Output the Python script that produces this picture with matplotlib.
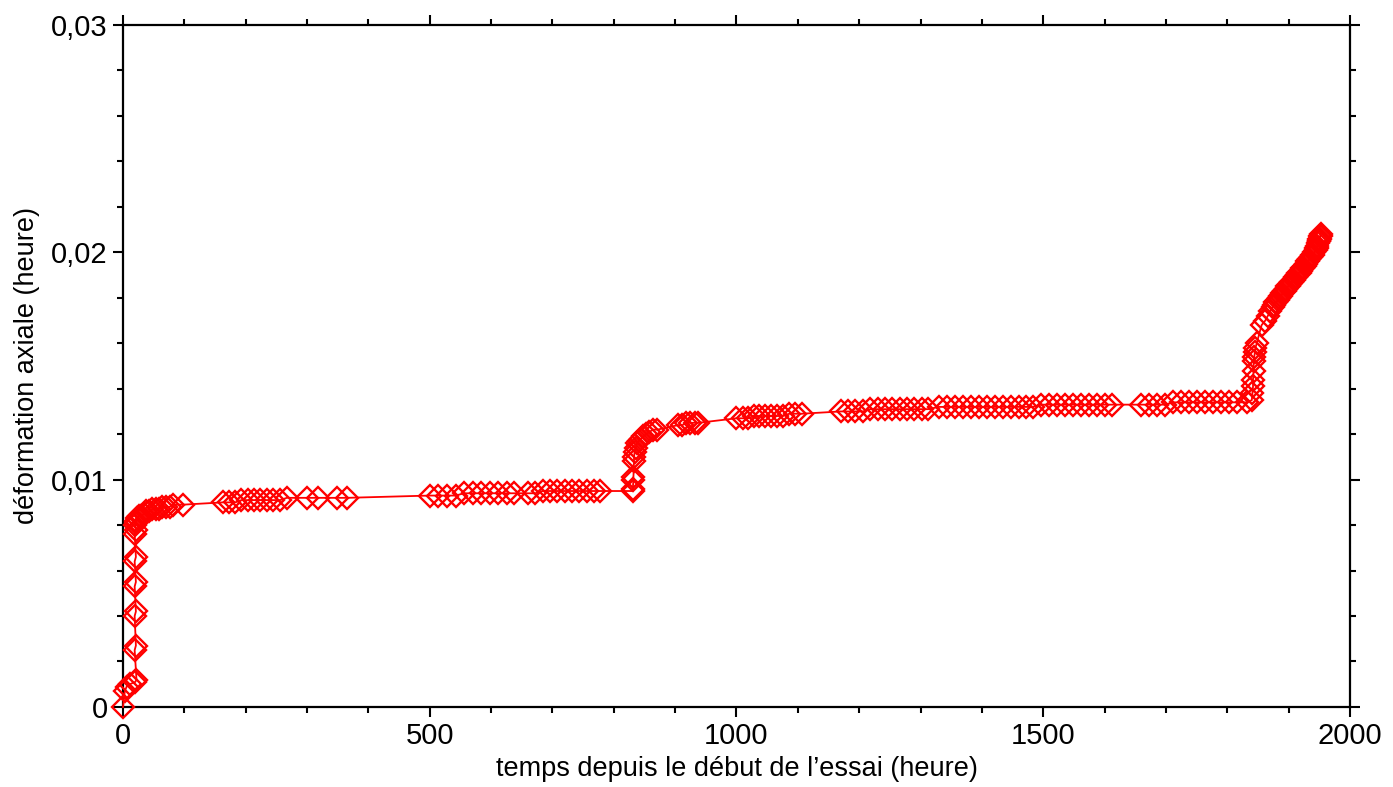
import numpy as np
import matplotlib.pyplot as plt
from matplotlib.ticker import MultipleLocator

plt.rcParams['font.family'] = ['Liberation Sans', 'DejaVu Sans']

# temps (heure) et deformation axiale
t_start = [0, 3, 6, 11, 20, 22,
           19, 21, 19, 21, 19, 21, 19, 21, 19, 21, 20, 21, 22, 23]
d_start = [0.0, 0.0007, 0.0009, 0.0010, 0.0011, 0.0012,
           0.0025, 0.0027, 0.0040, 0.0042, 0.0053, 0.0055, 0.0064, 0.0066,
           0.0076, 0.0078, 0.0080, 0.0081, 0.0082, 0.0083]

t_stage1 = [26, 30, 34, 38, 43, 48, 53, 58, 64, 70, 76, 82, 98,
            163, 173, 183, 193, 203, 213, 223, 234, 245, 256, 267,
            300, 318, 349, 365,
            500, 514, 528, 542, 556, 570, 584, 598, 612, 626, 638,
            660, 672, 684, 696, 708, 720, 732, 744, 756, 768, 778]
d_stage1 = [0.0084, 0.0084, 0.0085, 0.0086, 0.0086, 0.0087, 0.0087, 0.0087,
            0.0088, 0.0088, 0.0088, 0.0089, 0.0089,
            0.0090, 0.0090, 0.0090, 0.0091, 0.0091, 0.0091, 0.0091, 0.0091,
            0.0091, 0.0091, 0.0092,
            0.0092, 0.0092, 0.0092, 0.0092,
            0.0093, 0.0093, 0.0093, 0.0093, 0.0094, 0.0094, 0.0094, 0.0094,
            0.0094, 0.0094, 0.0094,
            0.0094, 0.0094, 0.0095, 0.0095, 0.0095, 0.0095, 0.0095, 0.0095,
            0.0095, 0.0095, 0.0095]

t_stage2 = [831, 831, 832, 832, 833, 833, 834, 836, 838, 841, 844, 848, 853,
            858, 864, 871,
            905, 912, 918, 925, 932, 938,
            1000, 1010, 1019, 1028, 1037, 1046, 1056, 1066, 1076, 1086, 1096, 1106,
            1170, 1182, 1194, 1206, 1218, 1230, 1242, 1254, 1266, 1278, 1290,
            1302, 1312,
            1330, 1343, 1356, 1369, 1382, 1395, 1408, 1421, 1434, 1447, 1460,
            1472, 1483,
            1497, 1510, 1523, 1536, 1549, 1562, 1575, 1588, 1601, 1612,
            1660, 1673, 1686, 1699, 1712, 1725, 1738, 1751, 1764, 1777, 1790,
            1803, 1816]
d_stage2 = [0.0095, 0.0096, 0.0100, 0.0101, 0.0108, 0.0110, 0.0112, 0.0114,
            0.0116, 0.0117, 0.0118, 0.0119, 0.0120, 0.0121, 0.0122, 0.0122,
            0.0124, 0.0124, 0.0125, 0.0125, 0.0125, 0.0125,
            0.0127, 0.0127, 0.0127, 0.0128, 0.0128, 0.0128, 0.0128, 0.0128,
            0.0128, 0.0129, 0.0129, 0.0129,
            0.0130, 0.0130, 0.0130, 0.0130, 0.0131, 0.0131, 0.0131, 0.0131,
            0.0131, 0.0131, 0.0131, 0.0131, 0.0131,
            0.0132, 0.0132, 0.0132, 0.0132, 0.0132, 0.0132, 0.0132, 0.0132,
            0.0132, 0.0132, 0.0132, 0.0132, 0.0132,
            0.0133, 0.0133, 0.0133, 0.0133, 0.0133, 0.0133, 0.0133, 0.0133,
            0.0133, 0.0133,
            0.0133, 0.0133, 0.0133, 0.0133, 0.0134, 0.0134, 0.0134, 0.0134,
            0.0134, 0.0134, 0.0134, 0.0134, 0.0134]

t_stage3 = [1832, 1840, 1841, 1842, 1842, 1843, 1843, 1844, 1845, 1846, 1848,
            1856, 1862, 1866, 1870, 1874,
            1876, 1878, 1880, 1882, 1884, 1886, 1888, 1890, 1892, 1894, 1896,
            1898, 1900, 1902, 1904, 1906, 1908, 1910, 1912, 1914, 1916, 1918,
            1920, 1922, 1924, 1926, 1928, 1930, 1932, 1934, 1936, 1938, 1940,
            1942, 1944, 1945, 1946, 1947, 1948, 1949, 1950, 1950, 1951, 1951,
            1952, 1952]
d_stage3 = [0.0134, 0.0135, 0.0138, 0.0141, 0.0144, 0.0148, 0.0152, 0.0154,
            0.0156, 0.0158, 0.0160,
            0.0168, 0.0170, 0.0172, 0.0174, 0.0176,
            0.0177, 0.0178, 0.0178, 0.0179, 0.0180, 0.0181, 0.0181, 0.0182,
            0.0183, 0.0183, 0.0184, 0.0185, 0.0185, 0.0186, 0.0187, 0.0187,
            0.0188, 0.0189, 0.0189, 0.0190, 0.0191, 0.0191, 0.0192, 0.0193,
            0.0193, 0.0194, 0.0195, 0.0196, 0.0196, 0.0197, 0.0198, 0.0199,
            0.0199, 0.0200, 0.0201, 0.0202, 0.0202, 0.0203, 0.0204, 0.0205,
            0.0205, 0.0206, 0.0206, 0.0207, 0.0207, 0.0208]

temps = t_start + t_stage1 + t_stage2 + t_stage3
deformation = d_start + d_stage1 + d_stage2 + d_stage3

x_ticks = [0, 500, 1000, 1500, 2000]
y_ticks = [0, 0.01, 0.02, 0.03]
y_labels = ['0', '0,01', '0,02', '0,03']

fig = plt.figure(figsize=(13.93, 7.87), dpi=100)
ax = fig.add_axes([0.0883, 0.1017, 0.8808, 0.8665])

ax.plot(temps, deformation, color='red', linewidth=1.3, marker='D',
        markersize=11.5, markerfacecolor='none', markeredgecolor='red',
        markeredgewidth=1.7, clip_on=False, zorder=3)

ax.set_xlim(0, 2000)
ax.set_ylim(0, 0.03)
ax.set_xticks(x_ticks)
ax.set_yticks(y_ticks, labels=y_labels)
ax.xaxis.set_minor_locator(MultipleLocator(100))
ax.yaxis.set_minor_locator(MultipleLocator(0.002))
ax.tick_params(which='both', direction='out', top=True, right=True,
               labelsize=21, width=1.5)
ax.tick_params(which='major', length=7, pad=4)
ax.tick_params(which='minor', length=4)
for s in ax.spines.values():
    s.set_linewidth(1.6)

ax.set_xlabel("temps depuis le début de l\u2019essai (heure)", fontsize=19.5, labelpad=4)
ax.set_ylabel("déformation axiale (heure)", fontsize=19.5, labelpad=8)

fig.savefig('out.png', dpi=100)
